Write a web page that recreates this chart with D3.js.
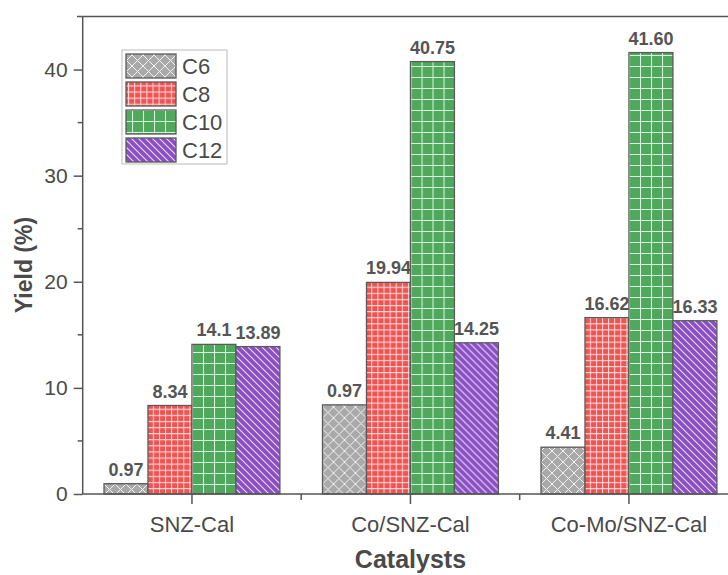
<!DOCTYPE html>
<html>
<head>
<meta charset="utf-8">
<script src="https://cdn.jsdelivr.net/npm/d3@7"></script>
<style>
  html, body { margin: 0; padding: 0; background: #fff; }
  svg { display: block; font-family: "Liberation Sans", Arial, sans-serif; }
</style>
</head>
<body>
<svg id="chart" width="728" height="575"></svg>
<script>
const categories = ["SNZ-Cal", "Co/SNZ-Cal", "Co-Mo/SNZ-Cal"];
const seriesNames = ["C6", "C8", "C10", "C12"];
const c6Values  = [0.97, 8.4, 4.41];
const c8Values  = [8.34, 19.94, 16.62];
const c10Values = [14.1, 40.75, 41.60];
const c12Values = [13.89, 14.25, 16.33];
const c6Labels  = ["0.97", "0.97", "4.41"];
const c8Labels  = ["8.34", "19.94", "16.62"];
const c10Labels = ["14.1", "40.75", "41.60"];
const c12Labels = ["13.89", "14.25", "16.33"];
const yTicks = [0, 10, 20, 30, 40];
const yMinorTicks = [5, 15, 25, 35];

const seriesValues = [c6Values, c8Values, c10Values, c12Values];
const seriesLabels = [c6Labels, c8Labels, c10Labels, c12Labels];

const svg = d3.select("#chart");
const axisColor = "#555";
const textColor = "#4a4a4a";

const x0 = 82.7, yBase = 494, yTop = 16.5;
const x = d3.scaleBand().domain(categories).range([x0, x0 + 3 * 218.5]).paddingInner(0.195).paddingOuter(0.0975);
const xs = d3.scaleBand().domain(seriesNames).range([0, x.bandwidth()]).padding(0);
const y = d3.scaleLinear().domain([0, 45]).range([yBase, yTop]);

// patterns
const defs = svg.append("defs");
function pat(id, w, h, bg, draw) {
  const p = defs.append("pattern").attr("id", id).attr("patternUnits", "userSpaceOnUse")
    .attr("width", w).attr("height", h);
  p.append("rect").attr("width", w).attr("height", h).attr("fill", bg);
  draw(p);
}
pat("p-c6", 11, 11, "#a9a9a9", p => {
  p.append("path").attr("d", "M0,0L11,11M11,0L0,11").attr("stroke", "#f2f2f2").attr("stroke-width", 1).attr("fill", "none");
});
pat("p-c8", 6.1, 6.1, "#ef5352", p => {
  p.append("path").attr("d", "M0.5,0V6.1M0,0.5H6.1").attr("stroke", "#ffd9d9").attr("stroke-width", 1).attr("fill", "none");
});
pat("p-c10", 11, 11, "#4fa85b", p => {
  p.append("path").attr("d", "M0.5,0V11M0,0.5H11").attr("stroke", "#d8f5df").attr("stroke-width", 1.1).attr("fill", "none");
});
pat("p-c12", 7, 7, "#8a4fc2", p => {
  p.append("path").attr("d", "M0,0L7,7M-1,6L1,8M6,-1L8,1").attr("stroke", "#eadcf7").attr("stroke-width", 1.1).attr("fill", "none");
});
const patIds = ["p-c6", "p-c8", "p-c10", "p-c12"];

// bars
const groups = svg.append("g").selectAll("g").data(categories).join("g")
  .attr("transform", d => `translate(${x(d)},0)`);
groups.each(function(cat, ci) {
  const g = d3.select(this);
  seriesNames.forEach((s, si) => {
    const v = seriesValues[si][ci];
    g.append("rect")
      .attr("x", xs(s)).attr("width", xs.bandwidth())
      .attr("y", y(v)).attr("height", y(0) - y(v))
      .attr("fill", `url(#${patIds[si]})`)
      .attr("stroke", "#5a5a5a").attr("stroke-width", 1.3);
    g.append("text")
      .attr("x", xs(s) + xs.bandwidth() / 2).attr("y", y(v) - 8)
      .attr("text-anchor", "middle").attr("font-size", 18).attr("font-weight", "bold")
      .attr("fill", "#555").text(seriesLabels[si][ci]);
  });
});

// frame top line
svg.append("line").attr("x1", 77).attr("x2", 740).attr("y1", yTop).attr("y2", yTop)
  .attr("stroke", axisColor).attr("stroke-width", 1.5);

// y axis
const yAxisG = svg.append("g").attr("transform", `translate(${x0},0)`)
  .call(d3.axisLeft(y).tickValues(yTicks).tickSize(9).tickPadding(6).tickFormat(d3.format("d")));
yAxisG.select(".domain").attr("d", `M0,${yTop}V${yBase}`).attr("stroke", axisColor).attr("stroke-width", 1.5);
yAxisG.selectAll(".tick line").attr("stroke", axisColor).attr("stroke-width", 1.5);
yAxisG.selectAll(".tick text").attr("font-size", 21).attr("fill", textColor).attr("font-family", "Liberation Sans, Arial, sans-serif");
svg.append("g").selectAll("line").data(yMinorTicks).join("line")
  .attr("x1", x0 - 5).attr("x2", x0).attr("y1", d => y(d)).attr("y2", d => y(d))
  .attr("stroke", axisColor).attr("stroke-width", 1.5);

// x axis
const xAxisG = svg.append("g").attr("transform", `translate(0,${yBase})`)
  .call(d3.axisBottom(x).tickSize(10).tickPadding(12));
xAxisG.select(".domain").attr("d", `M${x0},0H740`).attr("stroke", axisColor).attr("stroke-width", 1.5);
xAxisG.selectAll(".tick line").attr("stroke", axisColor).attr("stroke-width", 1.5);
xAxisG.selectAll(".tick text").attr("font-size", 22).attr("fill", textColor).attr("font-family", "Liberation Sans, Arial, sans-serif");
svg.append("g").selectAll("line").data(categories.slice(1)).join("line")
  .attr("x1", d => x(d) - x.step() * x.paddingInner() / 2)
  .attr("x2", d => x(d) - x.step() * x.paddingInner() / 2)
  .attr("y1", yBase).attr("y2", yBase + 6)
  .attr("stroke", axisColor).attr("stroke-width", 1.5);

// axis titles
svg.append("text").attr("x", x(categories[1]) + x.bandwidth() / 2).attr("y", 568)
  .attr("text-anchor", "middle").attr("font-size", 25).attr("font-weight", "bold")
  .attr("fill", textColor).text("Catalysts");
svg.append("text").attr("transform", "translate(32,265) rotate(-90)")
  .attr("text-anchor", "middle").attr("font-size", 23).attr("font-weight", "bold")
  .attr("fill", textColor).text("Yield (%)");

// legend
const lg = svg.append("g");
lg.append("rect").attr("x", 122).attr("y", 50).attr("width", 105).attr("height", 114)
  .attr("fill", "#fff").attr("stroke", "#bbb").attr("stroke-width", 1);
seriesNames.forEach((s, i) => {
  const ty = 54 + i * 28;
  lg.append("rect").attr("x", 126).attr("y", ty).attr("width", 50).attr("height", 24)
    .attr("fill", `url(#${patIds[i]})`).attr("stroke", "#5a5a5a").attr("stroke-width", 1.3);
  lg.append("text").attr("x", 182).attr("y", ty + 20).attr("font-size", 22)
    .attr("fill", textColor).text(s);
});
</script>
</body>
</html>
